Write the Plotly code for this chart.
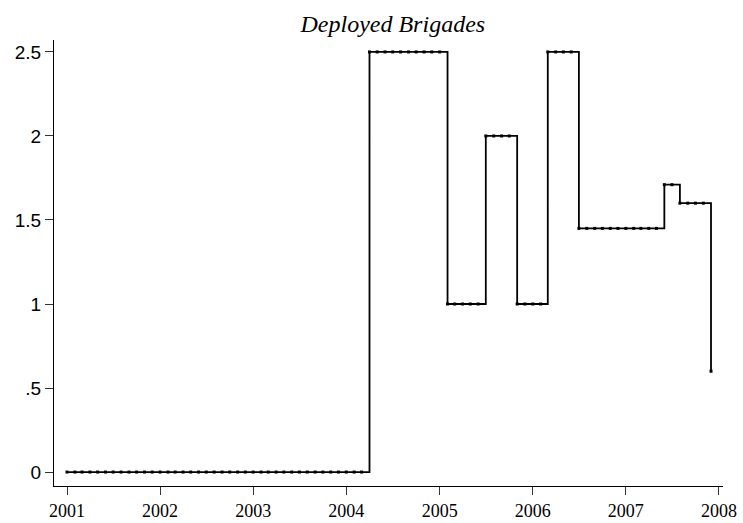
import pandas as pd
import plotly.graph_objects as go

# monthly observations, 2001m1 .. 2007m12
months = pd.date_range("2001-01-01", "2007-12-01", freq="MS").strftime("%Y-%m-%d").tolist()

brigades = [
    # 2001
    0, 0, 0, 0, 0, 0, 0, 0, 0, 0, 0, 0,
    # 2002
    0, 0, 0, 0, 0, 0, 0, 0, 0, 0, 0, 0,
    # 2003
    0, 0, 0, 0, 0, 0, 0, 0, 0, 0, 0, 0,
    # 2004
    0, 0, 0, 2.5, 2.5, 2.5, 2.5, 2.5, 2.5, 2.5, 2.5, 2.5,
    # 2005
    2.5, 1, 1, 1, 1, 1, 2, 2, 2, 2, 1, 1,
    # 2006
    1, 1, 2.5, 2.5, 2.5, 2.5, 1.45, 1.45, 1.45, 1.45, 1.45, 1.45,
    # 2007
    1.45, 1.45, 1.45, 1.45, 1.45, 1.71, 1.71, 1.6, 1.6, 1.6, 1.6, 0.6,
]

year_ticks = ["2001-01-01", "2002-01-01", "2003-01-01", "2004-01-01",
              "2005-01-01", "2006-01-01", "2007-01-01", "2008-01-01"]
year_labels = ["2001", "2002", "2003", "2004", "2005", "2006", "2007", "2008"]

y_ticks = [0, 0.5, 1, 1.5, 2, 2.5]
y_labels = ["0", ".5", "1", "1.5", "2", "2.5"]

fig = go.Figure()
fig.add_trace(
    go.Scatter(
        x=months,
        y=brigades,
        mode="lines+markers",
        line=dict(shape="hv", color="black", width=1.8),
        marker=dict(symbol="square", size=3, color="black"),
        showlegend=False,
    )
)

fig.update_layout(
    width=743,
    height=523,
    margin=dict(l=54, r=20, t=40, b=37),
    plot_bgcolor="white",
    paper_bgcolor="white",
    title=dict(
        text="Deployed Brigades",
        x=0.5287,
        xanchor="center",
        y=0.955,
        yanchor="middle",
        font=dict(family="Liberation Serif", size=24, color="black", style="italic"),
    ),
)

fig.update_xaxes(
    type="date",
    range=["2000-11-11", "2008-01-17"],
    tickvals=year_ticks,
    ticktext=year_labels,
    ticks="outside",
    ticklen=8,
    tickcolor="#333",
    showline=True,
    linecolor="black",
    linewidth=1,
    showgrid=False,
    zeroline=False,
    automargin=False,
    ticklabeloverflow="allow",
    tickfont=dict(family="Liberation Serif", size=18, color="black"),
)

fig.update_yaxes(
    range=[-0.083, 2.571],
    tickvals=y_ticks,
    ticktext=y_labels,
    ticks="outside",
    ticklen=8,
    tickcolor="#333",
    showline=True,
    linecolor="black",
    linewidth=1,
    showgrid=False,
    zeroline=False,
    automargin=False,
    tickfont=dict(family="Liberation Sans", size=19, color="black"),
)

# drop the browser's default 8px body margin so the figure fills the window
fig.write_html(
    "out.html",
    config={"displayModeBar": False},
    post_script="document.body.style.margin = '0';",
)
